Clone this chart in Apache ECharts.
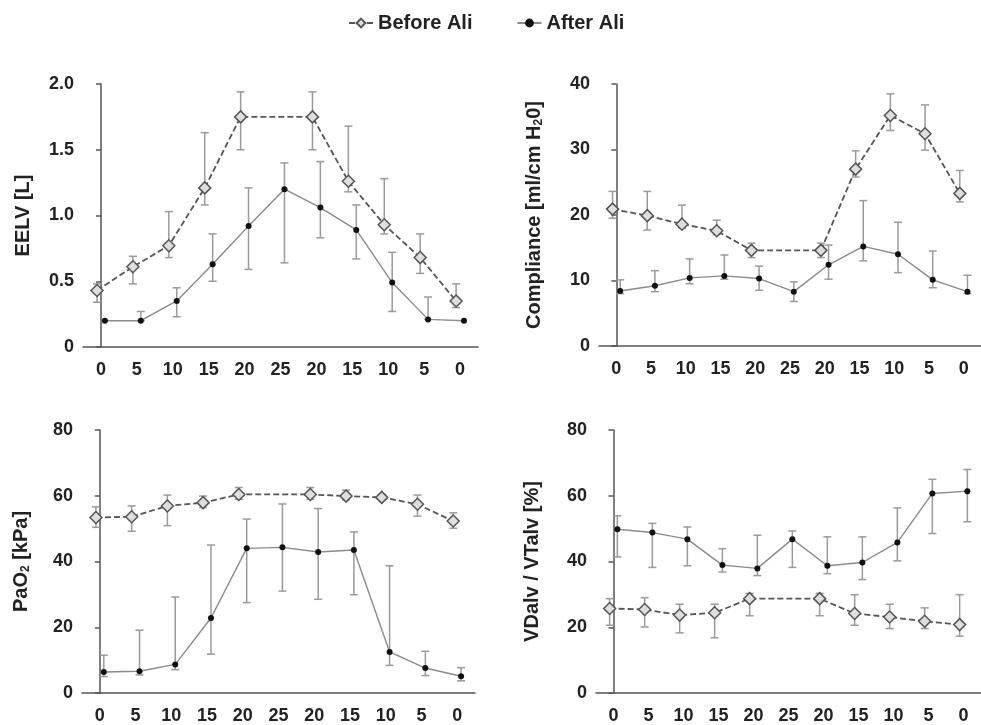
<!DOCTYPE html>
<html>
<head>
<meta charset="utf-8">
<script src="https://cdn.jsdelivr.net/npm/echarts@6/dist/echarts.min.js"></script>
<style>
html,body{margin:0;padding:0;background:#fff;}
#chart{width:981px;height:725px;}
</style>
</head>
<body>
<div id="chart"></div>
<script>
// ---- data ----
const categories = ['0','5','10','15','20','25','20','15','10','5','0'];

const eelvBefore   = [0.43,0.61,0.77,1.21,1.75,null,1.75,1.26,0.93,0.68,0.35];
const eelvBeforeHi = [0.48,0.69,1.03,1.63,1.94,null,1.94,1.68,1.28,0.86,0.48];
const eelvBeforeLo = [0.34,0.48,0.68,1.08,1.50,null,1.50,1.18,0.86,0.56,0.30];
const eelvAfter    = [0.20,0.20,0.35,0.63,0.92,1.20,1.06,0.89,0.49,0.21,0.20];
const eelvAfterHi  = [null,0.27,0.45,0.86,1.21,1.40,1.41,1.08,0.72,0.38,null];
const eelvAfterLo  = [null,0.20,0.23,0.50,0.59,0.64,0.83,0.67,0.27,0.21,null];

const compBefore   = [20.9,19.9,18.6,17.6,14.6,null,14.6,27.0,35.2,32.4,23.3];
const compBeforeHi = [23.6,23.6,21.5,19.2,15.7,null,15.7,29.8,38.5,36.8,26.8];
const compBeforeLo = [19.5,17.7,18.0,17.0,13.5,null,13.5,25.8,32.9,29.9,22.0];
const compAfter    = [8.4,9.2,10.4,10.7,10.3,8.3,12.4,15.2,14.0,10.1,8.3];
const compAfterHi  = [10.1,11.5,13.3,13.9,12.2,9.8,15.4,22.2,18.9,14.5,10.8];
const compAfterLo  = [8.0,8.3,9.5,10.2,8.5,6.8,10.2,13.0,11.2,8.9,8.0];

const paoBefore   = [53.4,53.6,56.9,57.9,60.4,null,60.4,59.9,59.5,57.4,52.3];
const paoBeforeHi = [56.6,56.9,60.2,59.9,62.5,null,62.5,61.7,60.4,60.2,54.8];
const paoBeforeLo = [50.4,49.2,50.9,56.4,58.9,null,58.9,58.7,59.0,53.8,50.1];
const paoAfter    = [6.4,6.6,8.7,22.8,44.0,44.3,42.9,43.5,12.5,7.6,5.1];
const paoAfterHi  = [11.5,19.1,29.2,45.0,52.9,57.5,56.1,49.0,38.7,12.7,7.7];
const paoAfterLo  = [5.0,5.5,7.1,11.8,27.5,31.0,28.5,29.9,8.4,5.3,3.7];

const vdBefore   = [25.7,25.4,23.7,24.4,28.7,null,28.7,24.2,23.1,21.8,20.8];
const vdBeforeHi = [28.7,29.0,27.0,27.0,30.3,null,30.3,29.9,27.0,25.9,29.9];
const vdBeforeLo = [20.6,20.1,18.3,16.8,23.5,null,23.5,20.6,19.6,19.6,17.3];
const vdAfter    = [49.8,48.8,46.8,38.9,37.9,46.8,38.7,39.7,45.8,60.7,61.4];
const vdAfterHi  = [53.9,51.6,50.5,43.9,48.0,49.3,47.5,47.5,56.3,65.0,68.0];
const vdAfterLo  = [41.4,38.2,38.7,36.8,35.7,38.2,36.3,34.5,40.2,48.5,52.1];

const yTitles = ['EELV [L]', 'Compliance [ml/cm H{sub|2}0]', 'PaO{sub|2} [kPa]', 'VDalv / VTalv [%]'];
const yMax = [2, 40, 80, 80];
const yInterval = [0.5, 10, 20, 20];

// ---- layout ----
const grids = [
  {left: 83, top: 84, width: 395, height: 263},
  {left: 599, top: 84, width: 393, height: 262},
  {left: 82, top: 430, width: 393, height: 263},
  {left: 596, top: 430, width: 393, height: 263}
];
const nameGaps = [50, 54, 50, 54];
const panels = [
  [eelvBefore, eelvBeforeHi, eelvBeforeLo, eelvAfter, eelvAfterHi, eelvAfterLo],
  [compBefore, compBeforeHi, compBeforeLo, compAfter, compAfterHi, compAfterLo],
  [paoBefore, paoBeforeHi, paoBeforeLo, paoAfter, paoAfterHi, paoAfterLo],
  [vdBefore, vdBeforeHi, vdBeforeLo, vdAfter, vdAfterHi, vdAfterLo]
];
const OFF_B = -0.11, OFF_A = 0.11;
const AXIS_COLOR = '#555';
const ERR_COLOR = '#9a9a9a';
const FONT = 'Liberation Sans, Arial, sans-serif';

function errRender(params, api) {
  const x = api.value(0), lo = api.value(1), hi = api.value(2);
  const pHi = api.coord([x, hi]);
  const pLo = api.coord([x, lo]);
  const w = 4;
  const st = {stroke: ERR_COLOR, lineWidth: 1.5};
  return {type: 'group', children: [
    {type: 'line', shape: {x1: pHi[0], y1: pHi[1], x2: pLo[0], y2: pLo[1]}, style: st},
    {type: 'line', shape: {x1: pHi[0]-w, y1: pHi[1], x2: pHi[0]+w, y2: pHi[1]}, style: st},
    {type: 'line', shape: {x1: pLo[0]-w, y1: pLo[1], x2: pLo[0]+w, y2: pLo[1]}, style: st}
  ]};
}

const xAxes = [], yAxes = [], series = [];
grids.forEach((g, i) => {
  xAxes.push({
    type: 'category', gridIndex: i, data: categories, boundaryGap: true,
    axisLine: {lineStyle: {color: AXIS_COLOR, width: 1.5}},
    axisTick: {alignWithLabel: true, length: 5, lineStyle: {color: AXIS_COLOR, width: 1.5}},
    axisLabel: {fontSize: 18, fontWeight: 'bold', color: '#222', margin: 14, fontFamily: FONT}
  });
  xAxes.push({type: 'value', gridIndex: i, min: -0.5, max: 10.5, show: false, splitLine: {show: false}});
  yAxes.push({
    type: 'value', gridIndex: i, min: 0, max: yMax[i], interval: yInterval[i],
    name: yTitles[i], nameLocation: 'middle', nameGap: nameGaps[i],
    nameTextStyle: {fontSize: 20, fontWeight: 'bold', color: '#222', fontFamily: FONT,
      rich: {sub: {fontSize: 12, fontWeight: 'bold', color: '#222', fontFamily: FONT, verticalAlign: 'bottom', padding: [10, 0, 0, 0]}}},
    axisLine: {show: true, lineStyle: {color: AXIS_COLOR, width: 1.5}},
    axisTick: {show: true, length: 5, lineStyle: {color: AXIS_COLOR, width: 1.5}},
    splitLine: {show: false},
    axisLabel: {fontSize: 18, fontWeight: 'bold', color: '#222', margin: 9, fontFamily: FONT,
      formatter: v => (yMax[i] === 2 ? (v === 0 ? '0' : v.toFixed(1)) : String(v))}
  });
  const [b, bh, bl, a, ah, al] = panels[i];
  const xi = 2 * i + 1;
  const errB = [], errA = [], lineB = [], lineA = [];
  categories.forEach((c, k) => {
    if (b[k] != null) lineB.push([k + OFF_B, b[k]]);
    if (bh[k] != null) errB.push([k + OFF_B, bl[k], bh[k]]);
    if (a[k] != null) lineA.push([k + OFF_A, a[k]]);
    if (ah[k] != null) errA.push([k + OFF_A, al[k], ah[k]]);
  });
  series.push({type: 'custom', xAxisIndex: xi, yAxisIndex: i, renderItem: errRender, data: errB,
    encode: {x: 0, y: [1, 2]}, z: 1, silent: true});
  series.push({type: 'custom', xAxisIndex: xi, yAxisIndex: i, renderItem: errRender, data: errA,
    encode: {x: 0, y: [1, 2]}, z: 1, silent: true});
  series.push({name: 'After Ali', type: 'line', xAxisIndex: xi, yAxisIndex: i, data: lineA, z: 3,
    symbol: 'circle', symbolSize: 6, itemStyle: {color: '#111'},
    lineStyle: {color: '#8a8a8a', width: 1.4}, animation: false});
  series.push({name: 'Before Ali', type: 'line', xAxisIndex: xi, yAxisIndex: i, data: lineB, z: 4,
    symbol: 'diamond', symbolSize: 12,
    itemStyle: {color: '#dedede', borderColor: '#555', borderWidth: 1.5},
    lineStyle: {color: '#555', width: 1.8, type: [6, 3]}, animation: false});
});

const chart = echarts.init(document.getElementById('chart'), null, {renderer: 'canvas'});
chart.setOption({
  animation: false,
  backgroundColor: '#fff',
  legend: {
    data: ['Before Ali', 'After Ali'], left: 343, top: 8, itemGap: 44, itemWidth: 24, itemHeight: 11,
    textStyle: {fontSize: 20, fontWeight: 'bold', color: '#222', fontFamily: FONT}
  },
  grid: grids.map(g => Object.assign({containLabel: false}, g)),
  xAxis: xAxes,
  yAxis: yAxes,
  series: series
});
</script>
</body>
</html>
